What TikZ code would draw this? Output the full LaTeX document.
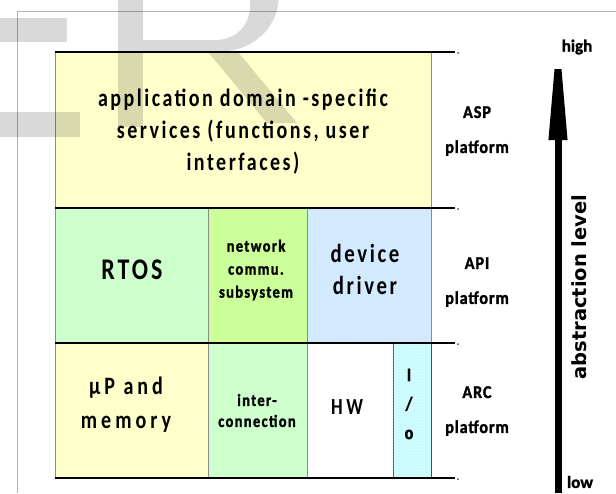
\documentclass[tikz,border=0pt]{standalone}
\usepackage{fontspec}
\setmainfont{Carlito}
\newfontfamily\cellfont{Carlito}[FakeStretch=0.8,LetterSpace=10]
\newfontfamily\widefont{Carlito}[FakeStretch=0.8,LetterSpace=16]
\newfontfamily\smallfont{Carlito}[FakeStretch=0.85,LetterSpace=8,BoldFeatures={FakeBold=1.5}]
\newfontfamily\labfont{Carlito}[FakeStretch=0.9,LetterSpace=5,BoldFeatures={FakeBold=1.5}]
\newfontfamily\hlfont{Carlito}[BoldFeatures={FakeBold=1.5}]
\newfontfamily\absfont{DejaVu Sans}
\usetikzlibrary{patterns,arrows.meta}
\definecolor{cyel}{HTML}{FFFFCC}
\definecolor{cgrn}{HTML}{CCFFCC}
\definecolor{cygr}{HTML}{CCFF99}
\definecolor{cblu}{HTML}{D2EBFF}
\definecolor{ccya}{HTML}{CCFFFF}
\begin{document}
\begin{tikzpicture}[x=1pt,y=-1pt,
  cell/.style={draw=black!45, line width=0.6pt, inner sep=0pt, outer sep=0pt, align=center, text=black},
  txt/.style={inner sep=0pt, align=center, text=black},
  plat/.style={font=\labfont\bfseries\fontsize{18}{35}\selectfont, align=center, inner sep=0pt},
  rule/.style={line width=1.6pt, black},
  enddot/.style={circle, fill=black!70, inner sep=0pt, minimum size=2pt},
  wm/.style={fill=black, fill opacity=0.15, draw=none}
]
\useasboundingbox (0,0) rectangle (616,493);
% frame
\coordinate (fr1) at (616,11);
\coordinate (fr2) at (17,11);
\coordinate (fr3) at (17,493);
\draw[black!30, line width=0.8pt] (fr1) -- (fr2) -- (fr3);

% cells
\node[cell, fill=cyel, minimum width=376, minimum height=156] (app) at (243,130) {};
\node[cell, fill=cgrn, minimum width=153, minimum height=135] (rtos) at (131.5,275.5) {};
\node[cell, fill=cygr, minimum width=99, minimum height=135] (net) at (257.5,275.5) {};
\node[cell, fill=cblu, minimum width=124, minimum height=135,
  postaction={pattern=dots, pattern color=blue!15}] (dd) at (369,275.5) {};
\node[cell, fill=cyel, minimum width=153, minimum height=135] (up) at (131.5,410.5) {};
\node[cell, fill=cgrn, minimum width=99, minimum height=135] (inter) at (257.5,410.5) {};
\node[cell, fill=white, minimum width=86, minimum height=135] (hw) at (350,410.5) {};
\node[cell, draw=black!70, fill=ccya, minimum width=38, minimum height=135,
  postaction={pattern=dots, pattern color=blue!20}] (io) at (412,410.5) {};

% watermark
\fill[wm] (0,18) rectangle (67,42);
\fill[wm] (0,112) rectangle (80,137);
\fill[wm] (118,-5) rectangle (143,127);
\fill[wm, even odd rule] (143,-60) -- (215,-60) .. controls (300,-60) and (300,52) .. (215,52) -- (143,52) -- cycle
  (143,-30) -- (215,-30) .. controls (262,-30) and (262,40) .. (215,40) -- (143,40) -- cycle;
\fill[wm] (208,52) -- (238,52) -- (297,123) -- (267,123) -- cycle;

% cell texts
\node[txt, font=\cellfont\bfseries\fontsize{25}{32}\selectfont] (appt) at (243,132)
  {application domain -specific\\services (functions, user\\interfaces)};
\node[txt, font=\cellfont\bfseries\fontsize{30}{30}\selectfont] (rtost) at (132,270) {RTOS};
\node[txt, font=\smallfont\bfseries\fontsize{17}{23}\selectfont] (nett) at (256,270) {network\\commu.\\subsystem};
\node[txt, font=\cellfont\bfseries\fontsize{26}{32}\selectfont] (ddt) at (365,269) {device\\driver};
\node[txt, font=\widefont\bfseries\fontsize{25}{34}\selectfont] (upt) at (126,405) {µP and\\memory};
\node[txt, font=\smallfont\bfseries\fontsize{17}{21}\selectfont] (intert) at (257,410.5) {inter-\\connection};
\node[txt, font=\widefont\bfseries\fontsize{23}{23}\selectfont] (hwt) at (347,407) {HW};
\node[txt, font=\smallfont\bfseries\fontsize{19}{29}\selectfont] (iot) at (409,404) {I\\/\\o};

% black rules
\coordinate (e1) at (455,52);
\coordinate (e2) at (455,208);
\coordinate (e3) at (455,343);
\coordinate (e4) at (455,478);
\draw[rule] (app.north west) -- (e1);
\draw[rule] (rtos.north west) -- (e2);
\draw[rule] (up.north west) -- (e3);
\draw[rule] (up.south west) -- (e4);
\node[enddot] (d1) at (458,53) {};
\node[enddot] (d2) at (458,209) {};
\node[enddot] (d3) at (458,344) {};
\node[enddot] (d4) at (458,479) {};

% platform labels
\node[plat] (asp) at (477,131) {ASP\\platform};
\node[plat] (api) at (477,282) {API\\platform};
\node[plat] (arc) at (477,411) {ARC\\platform};

% abstraction arrow
\coordinate (lowend) at (558,493);
\coordinate (highend) at (558,20);
\draw[line width=7pt, -{Triangle[length=120pt,width=17pt]}] (lowend) -- (highend);
\node[font=\hlfont\bfseries\fontsize{17}{17}\selectfont, inner sep=0pt] (high) at (577,47) {high};
\node[font=\hlfont\bfseries\fontsize{17}{17}\selectfont, inner sep=0pt] (low) at (580,482) {low};
\node[font=\absfont\bfseries\fontsize{19.5}{19.5}\selectfont, rotate=90, inner sep=0pt] (abs) at (579,287) {abstraction level};
\end{tikzpicture}
\end{document}
